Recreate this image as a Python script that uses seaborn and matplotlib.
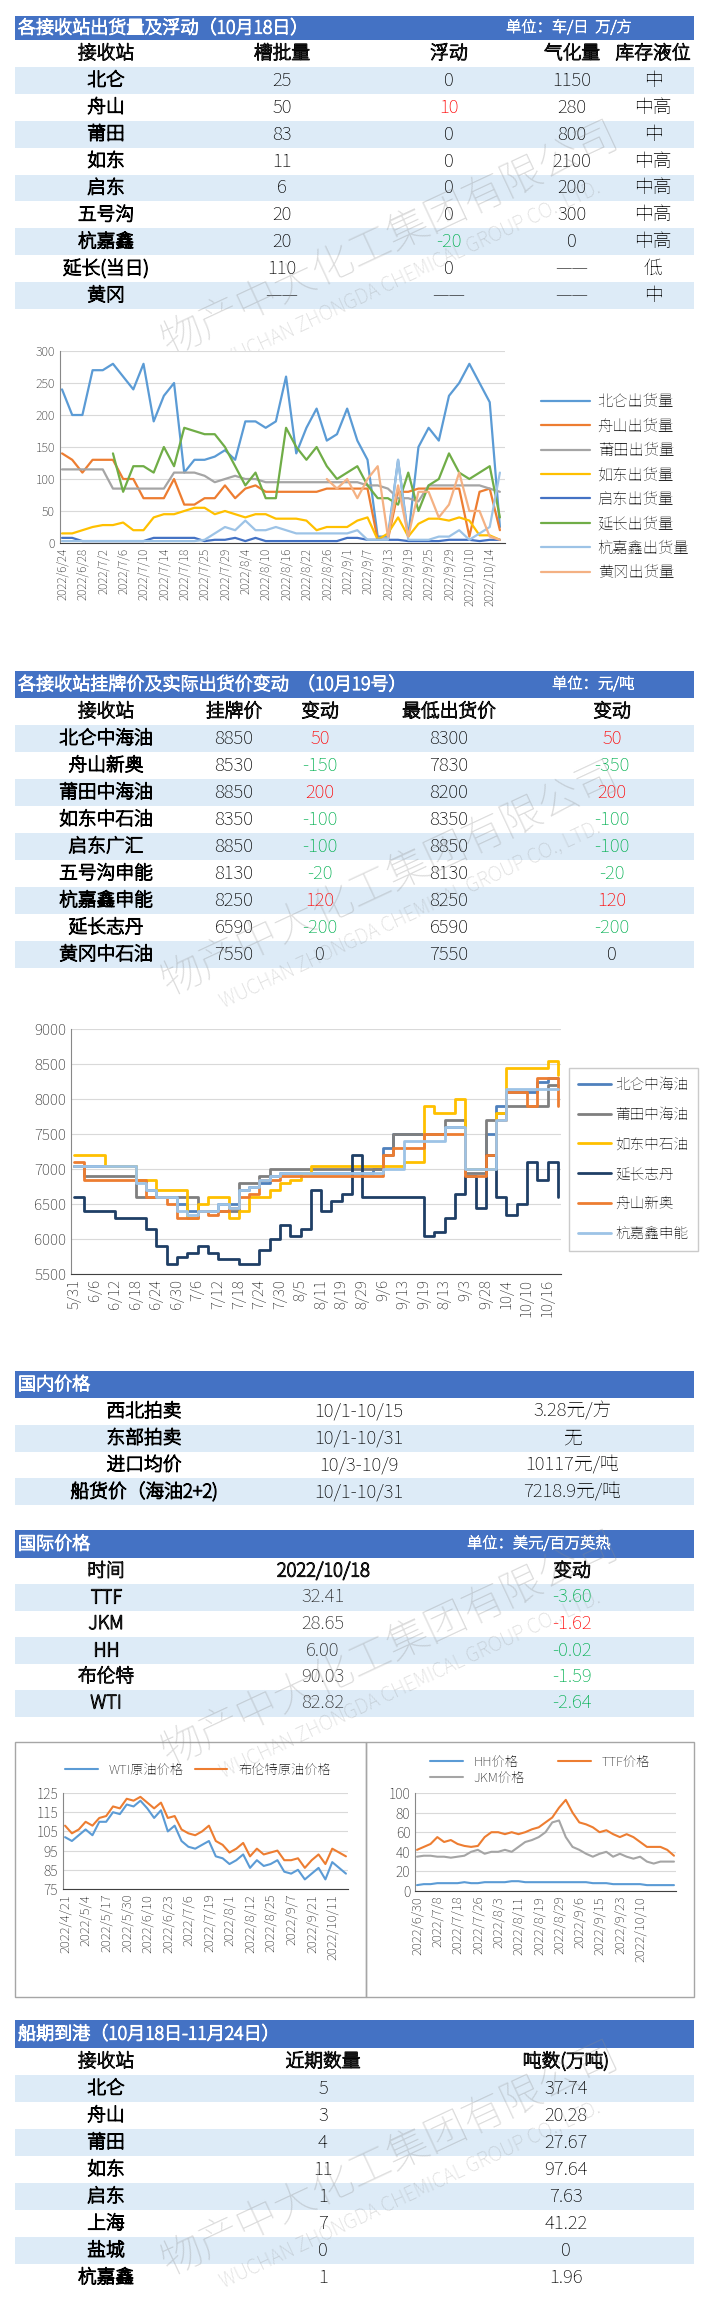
import numpy as np
import pandas as pd
import matplotlib
matplotlib.use("Agg")
import matplotlib.pyplot as plt
from matplotlib import font_manager
from matplotlib.patches import Rectangle
import matplotlib.patheffects as pe
import seaborn as sns

_avail = {f.name for f in font_manager.fontManager.ttflist}
_cands = ["Noto Sans CJK SC", "Noto Sans SC", "Noto Sans CJK JP", "Noto Sans CJK TC", "Noto Sans CJK KR",
          "Noto Sans JP", "Noto Serif CJK JP", "Noto Serif SC"]
CJK = next((c for c in _cands if c in _avail), "DejaVu Sans")
sns.set_style("white")
plt.rcParams["font.family"] = [CJK, "DejaVu Sans"]
plt.rcParams["axes.unicode_minus"] = False

# ---------------- DATA ----------------
t1_header = ["接收站", "槽批量", "浮动", "气化量", "库存液位"]
t1_station = ["北仑", "舟山", "莆田", "如东", "启东", "五号沟", "杭嘉鑫", "延长(当日)", "黄冈"]
t1_batch = ["25", "50", "83", "11", "6", "20", "20", "110", "——"]
t1_float = ["0", "10", "0", "0", "0", "0", "-20", "0", "——"]
t1_gas = ["1150", "280", "800", "2100", "200", "300", "0", "——", "——"]
t1_level = ["中", "中高", "中", "中高", "中高", "中高", "中高", "低", "中"]

c1_dates = ["6/24", "6/26", "6/28", "6/30", "7/2", "7/4", "7/6", "7/8", "7/10", "7/12", "7/14",
            "7/16", "7/18", "7/21", "7/25", "7/27", "7/29", "8/2", "8/4", "8/8", "8/10", "8/12",
            "8/16", "8/18", "8/22", "8/24", "8/26", "8/30", "9/1", "9/5", "9/7", "9/9",
            "9/13", "9/15", "9/19", "9/21", "9/25", "9/27", "9/29", "10/8", "10/10", "10/12",
            "10/14", "10/16"]
c1_names = ["北仑出货量", "舟山出货量", "莆田出货量", "如东出货量", "启东出货量", "延长出货量", "杭嘉鑫出货量", "黄冈出货量"]
beilun = [240,200,200,270,270,280,260,240,280,190,230,
          250,110,130,130,135,145,130,190,190,180,190,
          260,140,180,210,160,170,210,160,130,10,10,
          130,10,150,180,160,230,250,280,250,220,25]
zhoushan = [140,130,110,130,130,130,100,100,70,70,70,
            100,60,60,70,70,90,70,85,90,80,80,
            80,80,80,80,85,85,85,85,85,5,5,
            80,80,85,85,85,85,85,10,80,85,20]
putian = [115,115,115,115,115,85,85,85,85,85,85,
          110,110,110,105,95,100,105,100,100,95,95,
          95,95,95,95,95,95,95,95,90,90,85,
          70,70,65,90,90,90,90,90,90,85,80]
rudong = [15,15,20,25,28,28,32,20,20,40,45,
          45,50,55,55,45,50,45,40,45,45,38,
          38,38,35,20,25,25,25,35,40,5,15,
          40,10,30,38,38,35,40,35,12,12,5]
qidong = [8,8,3,3,3,3,3,3,3,8,8,
          8,8,8,3,5,5,8,3,8,3,3,
          3,3,3,3,3,3,8,8,5,5,5,
          5,3,3,3,3,5,5,5,3,5,5]
yanchang = [np.nan,np.nan,np.nan,np.nan,np.nan,140,80,120,120,110,150,
            120,180,175,170,170,150,120,90,110,70,70,
            180,150,130,150,120,100,110,120,90,70,70,
            60,110,50,90,100,140,110,100,110,120,40]
hangjiaxin = [3,3,3,3,3,3,3,3,3,3,3,
              3,3,3,5,15,25,20,35,20,20,25,
              20,15,15,15,15,15,15,20,5,5,5,
              130,5,5,5,10,10,20,5,15,25,110]
huanggang = [np.nan]*22 + [np.nan,np.nan,np.nan,np.nan,100,85,100,70,100,120,10,
                           90,10,80,80,40,60,110,50,50,10,5]

t2_header = ["接收站", "挂牌价", "变动", "最低出货价", "变动"]
t2_station = ["北仑中海油", "舟山新奥", "莆田中海油", "如东中石油", "启东广汇", "五号沟申能", "杭嘉鑫申能", "延长志丹", "黄冈中石油"]
t2_list = ["8850", "8530", "8850", "8350", "8850", "8130", "8250", "6590", "7550"]
t2_chg1 = ["50", "-150", "200", "-100", "-100", "-20", "120", "-200", "0"]
t2_low = ["8300", "7830", "8200", "8350", "8850", "8130", "8250", "6590", "7550"]
t2_chg2 = ["50", "-350", "200", "-100", "-100", "-20", "120", "-200", "0"]

c2_ticks = ["5/31", "6/6", "6/12", "6/18", "6/24", "6/30", "7/6", "7/12", "7/18", "7/24", "7/30", "8/5",
            "8/11", "8/19", "8/29", "9/6", "9/13", "9/19", "8/13", "9/3", "9/28", "10/4", "10/10", "10/16"]
c2_names = ["北仑中海油", "莆田中海油", "如东中石油", "延长志丹", "舟山新奥", "杭嘉鑫申能"]
p_beilun = [7050,7050,7050,7050,7050,7050,6850,6700,6600,6600,6500,6400,
            6400,6400,6500,6500,6700,6750,6800,6900,6950,6950,6950,6950,
            6950,6950,6950,6950,6950,7000,7300,7500,7500,7500,7500,7500,
            7600,7600,7000,7000,7500,7900,8100,8100,8100,8250,8300,8300]
p_putian = [7050,6900,6900,6900,6900,6900,6600,6600,6600,6600,6600,6600,
            6400,6400,6400,6400,6800,6800,6900,7000,7000,7000,7000,7000,
            7000,7000,7000,7000,7000,7000,7200,7500,7500,7500,7500,7500,
            7700,7700,6950,6950,7700,7800,7900,7900,7900,7900,8200,8200]
p_rudong = [7200,7200,7200,7050,7050,7050,6850,6850,6700,6700,6700,6300,
            6500,6600,6600,6300,6400,6600,6600,6700,6800,6850,6950,7050,
            7050,7050,7050,7050,7050,7050,7050,7050,7100,7100,7900,7800,
            7800,8000,7000,7000,7000,7800,8450,8450,8450,8450,8550,8350]
p_yanchang = [6600,6400,6400,6400,6300,6300,6300,6150,5900,5650,5750,5800,
              5900,5800,5720,5720,5650,5650,5850,6000,6200,6050,6150,6700,
              6400,6550,6650,7200,6600,6600,6600,6600,6600,6600,6050,6100,
              6300,6650,6900,6450,7200,6600,6350,6500,7100,6850,7100,6600]
p_zhoushan = [7100,6850,6850,6850,6850,6850,6850,6600,6600,6500,6300,6300,
              6400,6350,6400,6450,6600,6650,6850,6850,6900,6900,6900,6900,
              6900,6900,6900,6900,6900,6900,7200,7300,7300,7300,7500,7500,
              7500,7500,6900,6900,7200,7700,8100,8100,7900,8300,8300,7900]
p_hangjiaxin = [7050,7050,7050,7050,7050,7050,6800,6700,6600,6600,6400,6350,
                6400,6400,6500,6450,6700,6750,6850,6900,6950,6950,6950,6950,
                6950,6950,6950,6950,6950,6950,7000,7000,7400,7400,7400,7400,
                7600,7600,7000,7000,7000,7700,8150,8150,8150,8150,8150,8150]

t3_name = ["西北拍卖", "东部拍卖", "进口均价", "船货价（海油2+2)"]
t3_period = ["10/1-10/15", "10/1-10/31", "10/3-10/9", "10/1-10/31"]
t3_value = ["3.28元/方", "无", "10117元/吨", "7218.9元/吨"]

t4_header = ["时间", "2022/10/18", "变动"]
t4_name = ["TTF", "JKM", "HH", "布伦特", "WTI"]
t4_value = ["32.41", "28.65", "6.00", "90.03", "82.82"]
t4_chg = ["-3.60", "-1.62", "-0.02", "-1.59", "-2.64"]

c3_ticks = ["2022/4/21", "2022/5/4", "2022/5/17", "2022/5/30", "2022/6/10", "2022/6/23", "2022/7/6",
            "2022/7/19", "2022/8/1", "2022/8/12", "2022/8/25", "2022/9/7", "2022/9/21", "2022/10/11"]
brent = [108,104,106,110,108,112,113,118,117,122,121,123,120,117,120,112,113,106,104,103,105,
         108,100,98,94,96,99,92,96,93,94,95,90,90,91,86,90,93,88,96,94,92]
wti = [102,100,103,106,103,110,110,115,114,119,118,121,117,112,116,105,108,100,97,96,98,
       100,92,91,88,90,93,86,90,87,88,90,84,83,85,80,83,86,80,89,86,83]

c4_ticks = ["2022/6/30", "2022/7/8", "2022/7/18", "2022/7/26", "2022/8/3", "2022/8/11", "2022/8/19",
            "2022/8/29", "2022/9/6", "2022/9/15", "2022/9/23", "2022/10/10"]
ttf = [42,45,48,55,50,52,48,46,45,46,55,60,60,58,60,58,60,63,65,70,75,85,93,80,70,68,65,60,62,58,
       55,58,55,50,45,45,45,42,36]
jkm = [35,36,36,35,35,34,35,36,40,42,38,40,40,42,40,45,50,52,55,60,70,72,55,45,42,38,35,38,40,35,
       38,35,33,35,30,28,30,30,30]
hh = [6,7,7,8,8,8,8,9,8,8,9,9,9,9,10,10,9,9,9,9,9,9,9,9,9,9,8,8,8,7,7,7,7,7,6,6,6,6,6]

t5_header = ["接收站", "近期数量", "吨数(万吨)"]
t5_station = ["北仑", "舟山", "莆田", "如东", "启东", "上海", "盐城", "杭嘉鑫"]
t5_count = ["5", "3", "4", "11", "1", "7", "0", "1"]
t5_ton = ["37.74", "20.28", "27.67", "97.64", "7.63", "41.22", "0", "1.96"]

# ---------------- LAYOUT ----------------
W, H = 705, 2301
fig = plt.figure(figsize=(W / 100, H / 100), dpi=100)
bg = fig.add_axes([0, 0, 1, 1])
bg.set_xlim(0, W); bg.set_ylim(H, 0); bg.axis("off")

BLUE = "#4472C4"; BAND = "#DDEBF7"; RED = "#FF0000"; GREEN = "#00B050"
L, R = 15, 694

def BOLD(c="black", w=0.9):
    return [pe.withStroke(linewidth=w, foreground=c)]

# watermark
for (wx, wy) in [(390, 240), (390, 880), (390, 1650), (390, 2160)]:
    bg.text(wx, wy, "物产中大化工集团有限公司", fontsize=30, color="#8C8C8C", alpha=0.3,
            rotation=25, ha="center", va="center", zorder=5)
    bg.text(wx + 20, wy + 35, "WUCHAN ZHONGDA CHEMICAL GROUP CO., LTD.", fontsize=14, color="#8C8C8C",
            alpha=0.3, rotation=25, ha="center", va="center", zorder=5)

def header(y0, y1, title, unit=None, ux=None):
    bg.add_patch(Rectangle((L, y0), R - L, y1 - y0, color=BLUE, lw=0))
    bg.text(L + 3, (y0 + y1) / 2, title, color="white", fontsize=13, va="center", ha="left",
            path_effects=BOLD("white", 0.9))
    if unit:
        bg.text(ux, (y0 + y1) / 2, unit, color="white", fontsize=11, va="center", ha="left",
                path_effects=BOLD("white", 0.6))

def chg_color(s):
    if s.startswith("-"):
        return GREEN
    if s in ("0", "——"):
        return "black"
    return RED

def table(y0, rh, xs, head, cols, band_start=0, colors=None, fs=13.5):
    if head is not None:
        for x, h in zip(xs, head):
            bg.text(x, y0 + rh / 2, h, fontsize=fs, ha="center", va="center", path_effects=BOLD())
        y0 += rh
    n = len(cols[0])
    for i in range(n):
        yt = y0 + i * rh
        if (i + band_start) % 2 == 0:
            bg.add_patch(Rectangle((L, yt), R - L, rh, color=BAND, lw=0))
        for j, (x, col) in enumerate(zip(xs, cols)):
            c = "black"
            if colors and colors[j]:
                c = chg_color(col[i])
            bg.text(x, yt + rh / 2, col[i], fontsize=fs, ha="center", va="center", color=c,
                    path_effects=BOLD() if j == 0 else None)

# Section 1
header(16, 40, "各接收站出货量及浮动（10月18日）", "单位：车/日  万/方", 506)
table(40, 26.9, [106, 282, 449, 572, 653], t1_header,
      [t1_station, t1_batch, t1_float, t1_gas, t1_level], colors=[0, 0, 1, 0, 0])

def style(ax, fs_x, fs_y):
    ax.tick_params(axis="x", which="both", direction="in", length=4, labelsize=fs_x)
    ax.tick_params(axis="y", labelsize=fs_y, length=0)
    ax.grid(axis="y", color="#D9D9D9", lw=0.8)
    for s in ["top", "right"]:
        ax.spines[s].set_visible(False)
    ax.spines["left"].set_color("#888888"); ax.spines["bottom"].set_color("#404040")
    ax.set_xlabel(""); ax.set_ylabel("")

# Chart 1
ax1 = fig.add_axes([60 / W, 1 - 543 / H, 445 / W, 192 / H])
c1_colors = ["#5B9BD5", "#ED7D31", "#A5A5A5", "#FFC000", "#4472C4", "#70AD47", "#9DC3E6", "#F4B183"]
xs1 = np.arange(len(c1_dates))
for name, vals, col in zip(c1_names, [beilun, zhoushan, putian, rudong, qidong, yanchang, hangjiaxin, huanggang], c1_colors):
    sns.lineplot(x=xs1, y=vals, ax=ax1, color=col, lw=1.6, label=name)
ax1.set_ylim(0, 300); ax1.set_yticks(range(0, 301, 50))
ax1.set_xlim(-0.2, len(c1_dates) - 0.8)
ax1.set_xticks(xs1[::2]); ax1.set_xticklabels(["2022/" + d for d in c1_dates[::2]], rotation=90)
ax1.set_xticks(np.arange(0, len(c1_dates), 0.5), minor=True)
style(ax1, 8.5, 9)
ax1.legend(loc="upper left", bbox_to_anchor=(535 / W, 1 - 388 / H), bbox_transform=fig.transFigure,
           frameon=False, fontsize=11, handlelength=3.2, handletextpad=0.5, labelspacing=0.55, borderaxespad=0)

# Section 2
header(671, 698, "各接收站挂牌价及实际出货价变动  （10月19号）", "单位：元/吨", 552)
table(698, 27, [106, 234, 320, 449, 612], t2_header,
      [t2_station, t2_list, t2_chg1, t2_low, t2_chg2], colors=[0, 0, 1, 0, 1])

# Chart 2
ax2 = fig.add_axes([71 / W, 1 - 1274 / H, 490 / W, 245 / H])
c2_colors = ["#4F81BD", "#7F7F7F", "#FFC000", "#1F3F66", "#ED7D31", "#9DC3E6"]
xs2 = np.arange(len(p_beilun))
for name, vals, col in zip(c2_names, [p_beilun, p_putian, p_rudong, p_yanchang, p_zhoushan, p_hangjiaxin], c2_colors):
    sns.lineplot(x=xs2, y=vals, ax=ax2, color=col, lw=2, label=name, drawstyle="steps-post")
ax2.set_ylim(5500, 9000); ax2.set_yticks(range(5500, 9001, 500))
ax2.set_xlim(-0.3, len(p_beilun) - 0.7)
ax2.set_xticks(xs2[::2]); ax2.set_xticklabels(c2_ticks, rotation=90)
ax2.set_xticks(xs2, minor=True)
style(ax2, 11, 11)
ax2.legend(loc="upper left", bbox_to_anchor=(569 / W, 1 - 1068 / H), bbox_transform=fig.transFigure,
           frameon=True, fancybox=False, fontsize=10.5, handlelength=2.3, labelspacing=0.95,
           borderaxespad=0, borderpad=0.6, handletextpad=0.3, edgecolor="#BFBFBF")

# Section 3
header(1371, 1398, "国内价格")
table(1398, 26.8, [144, 359, 572], None, [t3_name, t3_period, t3_value], band_start=1)

# Section 4
header(1530, 1558, "国际价格", "单位：美元/百万英热", 467)
for x, h in zip([106, 323, 572], t4_header):
    bg.text(x, 1571, h, fontsize=13.5, ha="center", va="center", path_effects=BOLD())
t4_colors = [GREEN, RED, GREEN, GREEN, GREEN]
for i in range(5):
    yt = 1584 + i * 26.5
    if i % 2 == 0:
        bg.add_patch(Rectangle((L, yt), R - L, 26.5, color=BAND, lw=0))
    bg.text(106, yt + 13, t4_name[i], fontsize=13.5, ha="center", va="center", path_effects=BOLD())
    bg.text(323, yt + 13, t4_value[i], fontsize=13.5, ha="center", va="center")
    bg.text(572, yt + 13, t4_chg[i], fontsize=13.5, ha="center", va="center", color=t4_colors[i])

# chart boxes
bg.add_patch(Rectangle((15, 1742), 351, 255, fill=False, ec="#A6A6A6", lw=1))
bg.add_patch(Rectangle((366, 1742), 328, 255, fill=False, ec="#A6A6A6", lw=1))

ax3 = fig.add_axes([63 / W, 1 - 1889 / H, 285 / W, 96 / H])
xs3 = np.arange(len(brent))
sns.lineplot(x=xs3, y=wti, ax=ax3, color="#5B9BD5", lw=1.5, label="WTI原油价格")
sns.lineplot(x=xs3, y=brent, ax=ax3, color="#ED7D31", lw=1.5, label="布伦特原油价格")
ax3.set_ylim(75, 125); ax3.set_yticks(range(75, 126, 10))
ax3.set_xlim(-0.3, len(brent) - 0.7)
ax3.set_xticks(xs3[::3]); ax3.set_xticklabels(c3_ticks, rotation=90)
ax3.set_xticks(xs3, minor=True)
style(ax3, 9.5, 10)
ax3.legend(loc="upper left", bbox_to_anchor=(60 / W, 1 - 1758 / H), bbox_transform=fig.transFigure,
           ncol=2, frameon=False, fontsize=9.5, handlelength=2.5, borderaxespad=0, columnspacing=0.8)

ax4 = fig.add_axes([415 / W, 1 - 1891 / H, 261 / W, 98 / H])
xs4 = np.arange(len(ttf))
sns.lineplot(x=xs4, y=hh, ax=ax4, color="#5B9BD5", lw=1.5, label="HH价格")
sns.lineplot(x=xs4, y=jkm, ax=ax4, color="#A5A5A5", lw=1.5, label="JKM价格")
sns.lineplot(x=xs4, y=ttf, ax=ax4, color="#ED7D31", lw=1.5, label="TTF价格")
ax4.set_ylim(0, 100); ax4.set_yticks(range(0, 101, 20))
ax4.set_xlim(-0.3, len(ttf) - 0.7)
ax4.set_xticks(xs4[::3][:len(c4_ticks)]); ax4.set_xticklabels(c4_ticks, rotation=90)
ax4.set_xticks(xs4, minor=True)
style(ax4, 9.5, 10)
ax4.legend(loc="upper left", bbox_to_anchor=(425 / W, 1 - 1750 / H), bbox_transform=fig.transFigure,
           ncol=2, frameon=False, fontsize=9.5, handlelength=2.5, borderaxespad=0, columnspacing=2.5,
           labelspacing=0.2)

# Section 5
header(2020, 2048, "船期到港（10月18日-11月24日）")
table(2048, 27, [106, 323, 566], t5_header, [t5_station, t5_count, t5_ton])

fig.savefig("out.png", dpi=100)
